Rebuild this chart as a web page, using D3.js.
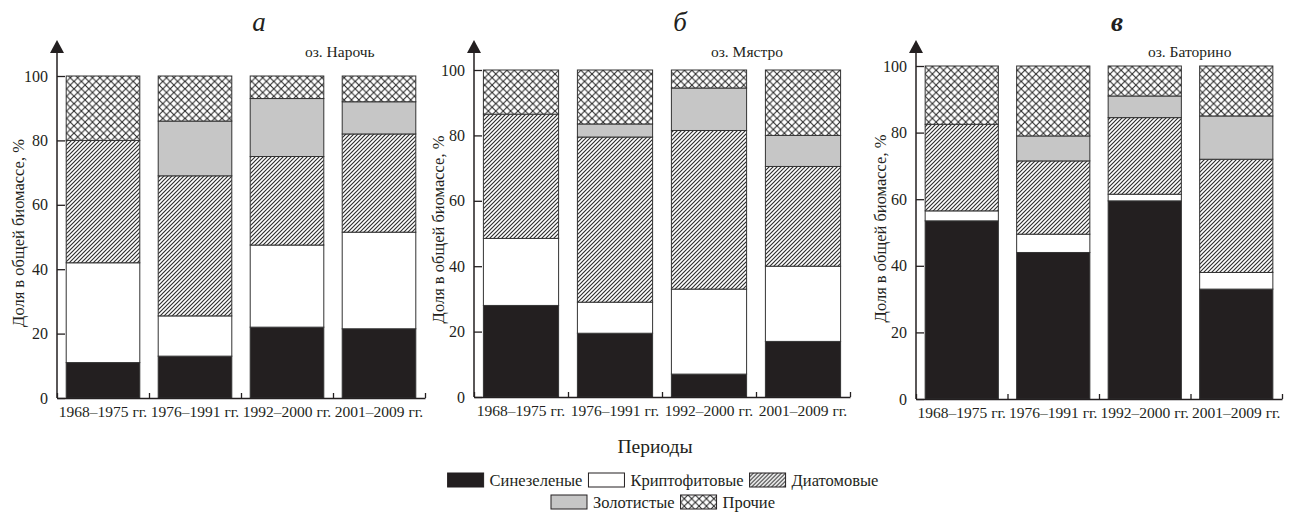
<!DOCTYPE html>
<html>
<head>
<meta charset="utf-8">
<script src="https://cdn.jsdelivr.net/npm/d3@7"></script>
<style>
  body { margin: 0; background: #fff; }
  svg text { font-family: "Liberation Serif", "DejaVu Serif", serif; fill: #231f20; }
</style>
</head>
<body>
<svg id="chart"></svg>
<script>
// chart data
const periods = ["1968–1975 гг.", "1976–1991 гг.", "1992–2000 гг.", "2001–2009 гг."];
const groups = ["Синезеленые", "Криптофитовые", "Диатомовые", "Золотистые", "Прочие"];
const lakes = ["оз. Нарочь", "оз. Мястро", "оз. Баторино"];
const panelLetters = ["а", "б", "в"];
const yTicks = [0, 20, 40, 60, 80, 100];

// shares per period, in order of groups
const narochValues = [
  [11, 31, 38, 0, 20],
  [13, 12.5, 43.5, 17, 14],
  [22, 25.5, 27.5, 18, 7],
  [21.5, 30, 30.5, 10, 8]
];
const myastroValues = [
  [28, 20.5, 38, 0, 13.5],
  [19.5, 9.5, 50.5, 4, 16.5],
  [7, 26, 48.5, 13, 5.5],
  [17, 23, 30.5, 9.5, 20]
];
const batorinoValues = [
  [53.5, 3, 26, 0, 17.5],
  [44, 5.5, 22, 7.5, 21],
  [59.5, 2, 23, 6.5, 9],
  [33, 5, 34, 13, 15]
];

const width = 1294;
const height = 512;
const font = "Liberation Serif, DejaVu Serif, serif";

// panel frames
const panels = [
  { values: narochValues, left: 57, right: 425, top: 76, bottom: 398, labelX: 18, lakeX: 305 },
  { values: myastroValues, left: 474, right: 850, top: 70, bottom: 397, labelX: 438, lakeX: 711 },
  { values: batorinoValues, left: 916, right: 1282, top: 66, bottom: 399, labelX: 880, lakeX: 1148 }
];

const svg = d3.select('#chart').attr("width", width).attr("height", height)
  .attr("font-family", font);

// fill patterns
const defs = svg.append("defs");
const hs = 4;
const hatch = defs.append("pattern")
  .attr("id", "hatch")
  .attr("patternUnits", "userSpaceOnUse")
  .attr("width", hs).attr("height", hs);
hatch.append("rect").attr("width", hs).attr("height", hs).attr("fill", "#fff");
hatch.append("path")
  .attr("d", `M-1,1 L1,-1 M0,${hs} L${hs},0 M${hs - 1},${hs + 1} L${hs + 1},${hs - 1}`)
  .attr("stroke", "#2e2e2e").attr("stroke-width", 1.15);

const cs = 7.4;
const cross = defs.append("pattern")
  .attr("id", "cross")
  .attr("patternUnits", "userSpaceOnUse")
  .attr("width", cs).attr("height", cs);
cross.append("rect").attr("width", cs).attr("height", cs).attr("fill", "#fff");
cross.append("path")
  .attr("d", `M0,0 L${cs},${cs} M0,${cs} L${cs},0`)
  .attr("stroke", "#2a2a2a").attr("stroke-width", 1.1);

const fills = ["#231f20", "#ffffff", "url(#hatch)", "#c6c6c6", "url(#cross)"];

const stack = d3.stack().keys(d3.range(groups.length)).value((d, k) => d[k]);

panels.forEach((p, pi) => {
  const g = svg.append("g");

  const x = d3.scaleBand().domain(periods).range([p.left, p.right]).padding(0);
  const y = d3.scaleLinear().domain([0, 100]).range([p.bottom, p.top]);
  const bw = x.bandwidth();

  // stacked bars
  const series = stack(p.values);
  series.forEach((s, k) => {
    g.selectAll(null)
      .data(s.filter(d => d[1] - d[0] > 0))
      .enter()
      .append("rect")
      .attr("x", d => x(periods[p.values.indexOf(d.data)]) + bw * 0.1)
      .attr("width", bw * 0.8)
      .attr("y", d => y(d[1]))
      .attr("height", d => y(d[0]) - y(d[1]))
      .attr("fill", fills[k])
      .attr("stroke", "#333")
      .attr("stroke-width", 1);
  });

  // y axis with inward ticks
  const yAxis = g.append("g")
    .attr("transform", `translate(${p.left},0)`)
    .call(d3.axisLeft(y).tickValues(yTicks).tickSize(-8).tickPadding(9).tickSizeOuter(0))
    .attr("font-family", font).attr("font-size", 16);
  yAxis.select(".domain").remove();
  yAxis.selectAll(".tick line").attr("stroke", "#231f20").attr("stroke-width", 1.3);
  yAxis.selectAll("text").attr("fill", "#231f20");

  g.append("line")
    .attr("x1", p.left).attr("x2", p.left)
    .attr("y1", p.bottom).attr("y2", 50)
    .attr("stroke", "#231f20").attr("stroke-width", 1.5);
  g.append("path")
    .attr("d", `M${p.left - 7},${53} L${p.left + 7},${53} L${p.left},${40} Z`)
    .attr("fill", "#231f20");

  // x axis: boundaries as ticks, labels at band centers
  const xb = d3.scaleLinear().domain([0, periods.length]).range([p.left, p.right]);
  const xAxis = g.append("g")
    .attr("transform", `translate(0,${p.bottom})`)
    .call(d3.axisBottom(xb).ticks(periods.length).tickSize(-5).tickFormat("").tickSizeOuter(0));
  xAxis.select(".domain").attr("stroke", "#231f20").attr("stroke-width", 1.5);
  xAxis.selectAll(".tick line").attr("stroke", "#231f20").attr("stroke-width", 1.3);

  const xLabels = g.append("g")
    .attr("transform", `translate(0,${p.bottom})`)
    .call(d3.axisBottom(x).tickSize(0).tickPadding(8))
    .attr("font-family", font).attr("font-size", 15.5);
  xLabels.select(".domain").remove();
  xLabels.selectAll("text").attr("fill", "#231f20");

  // y axis title
  g.append("text")
    .attr("transform", `translate(${p.labelX},${(p.top + p.bottom) / 2 - 4}) rotate(-90)`)
    .attr("text-anchor", "middle")
    .attr("dy", "0.35em")
    .attr("font-size", 16.5)
    .text("Доля в общей биомассе, %");

  // panel letter and lake name
  g.append("text")
    .attr("x", (p.left + p.right) / 2 + 18)
    .attr("y", 31)
    .attr("text-anchor", "middle")
    .attr("font-size", 27)
    .attr("font-style", "italic")
    .attr("font-weight", pi === 2 ? "bold" : "normal")
    .text(panelLetters[pi]);

  g.append("text")
    .attr("x", p.lakeX)
    .attr("y", 57)
    .attr("font-size", 15.5)
    .text(lakes[pi]);
});

// x axis title
svg.append("text")
  .attr("x", 655)
  .attr("y", 453)
  .attr("text-anchor", "middle")
  .attr("font-size", 19.5)
  .text("Периоды");

// legend, two centred rows
const legendRows = [[0, 1, 2], [3, 4]];
legendRows.forEach((row, r) => {
  const rowY = 473 + r * 22;
  const lg = svg.append("g");
  let cx = 0;
  row.forEach(k => {
    const item = lg.append("g").attr("transform", `translate(${cx},0)`);
    item.append("rect")
      .attr("x", 0).attr("y", 0)
      .attr("width", 36).attr("height", 14)
      .attr("fill", fills[k])
      .attr("stroke", "#231f20").attr("stroke-width", 1);
    const t = item.append("text")
      .attr("x", 42).attr("y", 13)
      .attr("font-size", 16.5)
      .text(groups[k]);
    cx += 42 + t.node().getComputedTextLength() + 6;
  });
  const w = cx - 6;
  lg.attr("transform", `translate(${663 - w / 2},${rowY})`);
});
</script>
</body>
</html>
